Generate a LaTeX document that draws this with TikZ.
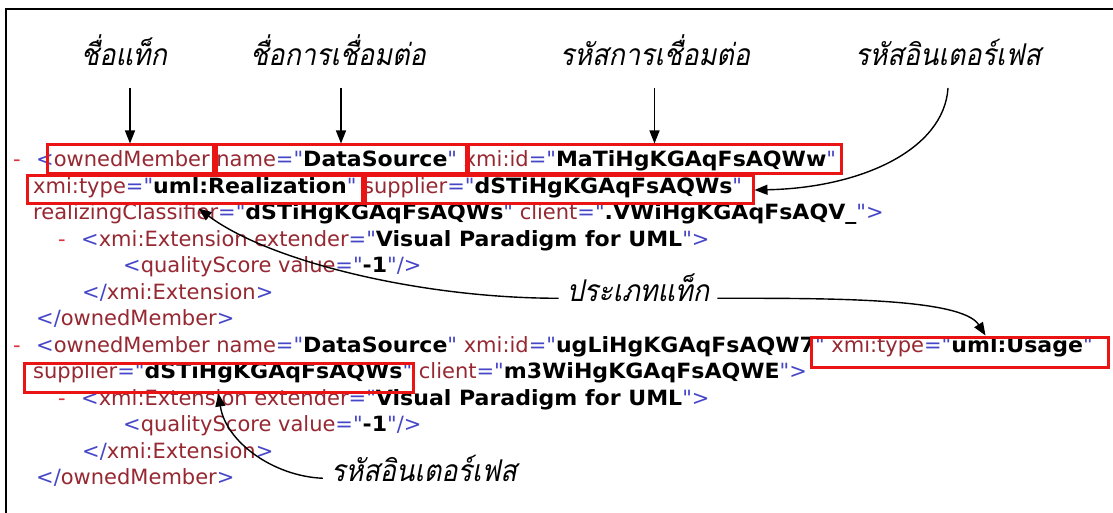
\documentclass[tikz,border=0pt]{standalone}
\usepackage{fontspec}
\setmainfont{DejaVu Sans}[Ligatures=TeXOff, BoldFeatures={FakeStretch=1.05}]
\newfontfamily\thaifont[Script=Thai,FakeSlant=0.2,FakeStretch=0.9]{Loma}
\usetikzlibrary{arrows.meta,calc}
\definecolor{xname}{RGB}{150,40,50}
\definecolor{xpunct}{RGB}{70,70,200}
\definecolor{xdash}{RGB}{220,50,60}
\definecolor{boxred}{RGB}{235,20,20}
\newcommand\xn[1]{\textcolor{xname}{#1}}
\newcommand\xp[1]{\textcolor{xpunct}{#1}}
\newcommand\xv[1]{\textbf{#1}}
\begin{document}
\begin{tikzpicture}[x=1pt,y=-1pt,
  xml/.style={anchor=base west, inner sep=0pt, font=\fontsize{21}{25}\selectfont},
  dashmark/.style={xml, text=xdash},
  redbox/.style={draw=boxred, line width=3pt, inner sep=0pt},
  thlabel/.style={font=\thaifont\fontsize{30}{36}\selectfont, inner xsep=8pt, inner ysep=0pt, anchor=base},
  arr/.style={line width=1.4pt, -{Triangle[length=13pt,width=10pt]}},
]
\fill[white] (0,0) rectangle (1113,513);
\useasboundingbox (0,0) rectangle (1113,513);
% frame
\draw[line width=2pt] (6,513) -- (6,9) -- (1113,9);

% XML listing
\node[dashmark] (d1) at (13,166.7) {-};
\node[xml] (t1) at (36,166.7) {\xp{<}\xn{ownedMember} \xn{name}\xp{="}\xv{DataSource}\xp{"} \xn{xmi:id}\xp{="}\xv{MaTiHgKGAqFsAQWw}\xp{"}};
\node[xml] (t2) at (33,193.2) {\xn{xmi:type}\xp{="}\xv{uml:Realization}\xp{"} \xn{supplier}\xp{="}\xv{dSTiHgKGAqFsAQWs}\xp{"}};
\node[xml] (t3) at (33,219.7) {\xn{realizingClassifier}\xp{="}\xv{dSTiHgKGAqFsAQWs}\xp{"} \xn{client}\xp{="}\xv{.VWiHgKGAqFsAQV\_}\xp{">}};
\node[dashmark] (d4) at (58,246.2) {-};
\node[xml] (t4) at (81,246.2) {\xp{<}\xn{xmi:Extension} \xn{extender}\xp{="}\xv{Visual Paradigm for UML}\xp{">}};
\node[xml] (t5) at (123,272.7) {\xp{<}\xn{qualityScore} \xn{value}\xp{="}\xv{-1}\xp{"/>}};
\node[xml] (t6) at (82,299.2) {\xp{</}\xn{xmi:Extension}\xp{>}};
\node[xml] (t7) at (36,325.7) {\xp{</}\xn{ownedMember}\xp{>}};
\node[dashmark] (d8) at (13,352.2) {-};
\node[xml] (t8) at (36,352.2) {\xp{<}\xn{ownedMember} \xn{name}\xp{="}\xv{DataSource}\xp{"} \xn{xmi:id}\xp{="}\xv{ugLiHgKGAqFsAQW7}\xp{"} \xn{xmi:type}\xp{="}\xv{uml:Usage}\xp{"}};
\node[xml] (t9) at (33,378.7) {\xn{supplier}\xp{="}\xv{dSTiHgKGAqFsAQWs}\xp{"} \xn{client}\xp{="}\xv{m3WiHgKGAqFsAQWE}\xp{">}};
\node[dashmark] (d10) at (58,405.2) {-};
\node[xml] (t10) at (81,405.2) {\xp{<}\xn{xmi:Extension} \xn{extender}\xp{="}\xv{Visual Paradigm for UML}\xp{">}};
\node[xml] (t11) at (123,431.7) {\xp{<}\xn{qualityScore} \xn{value}\xp{="}\xv{-1}\xp{"/>}};
\node[xml] (t12) at (82,458.2) {\xp{</}\xn{xmi:Extension}\xp{>}};
\node[xml] (t13) at (36,484.7) {\xp{</}\xn{ownedMember}\xp{>}};

% highlighted fields
\node[redbox, minimum width=166pt, minimum height=29pt] (bA) at (130,159.5) {};
\node[redbox, minimum width=250pt, minimum height=29pt] (bB) at (341,159.5) {};
\node[redbox, minimum width=373pt, minimum height=29pt] (bC) at (654.5,159.5) {};
\node[redbox, minimum width=335pt, minimum height=28pt] (bD) at (194.5,190) {};
\node[redbox, minimum width=388pt, minimum height=28pt] (bE) at (559,190) {};
\node[redbox, minimum width=297pt, minimum height=30pt] (bF) at (959.5,352) {};
\node[redbox, minimum width=389pt, minimum height=29pt] (bG) at (218.5,377.5) {};

% callout labels
\node[thlabel] (l1) at (124,66) {ชื่อแท็ก};
\node[thlabel] (l2) at (338,66) {ชื่อการเชื่อมต่อ};
\node[thlabel] (l3) at (655,66) {รหัสการเชื่อมต่อ};
\node[thlabel] (l4) at (948,66) {รหัสอินเตอร์เฟส};
\node[thlabel] (lt) at (638,301) {ประเภทแท็ก};
\node[thlabel] (li) at (424,481) {รหัสอินเตอร์เฟส};

% callout arrows
\draw[arr] ($(bA.north |- l1.base)+(0,22)$) -- (bA.north);
\draw[arr] ($(bB.north |- l2.base)+(0,22)$) -- (bB.north);
\draw[arr] ($(bC.north |- l3.base)+(0,22)$) -- (bC.north);
\draw[arr] ($(l4.base)+(0,22)$) .. controls ($(l4.base)+(-4,84)$) and ($(bE.east)+(106,-2)$) .. (bE.east);
\draw[arr, shorten >=5pt] (lt.mid west) .. controls ($(lt.mid west)+(-138,0)$) and ($(bD.south)+(75,56)$) .. (bD.south);
\coordinate (fTip) at ($(bF.north)+(26,0)$);
\draw[arr] (lt.mid east) .. controls ($(lt.mid east)+(108,0)$) and ($(fTip)+(-24,-38)$) .. (fTip);
\draw[arr] (li.mid west) .. controls ($(li.mid west)+(-50,-2)$) and ($(bG.south)+(7,48)$) .. (bG.south);
\end{tikzpicture}
\end{document}
